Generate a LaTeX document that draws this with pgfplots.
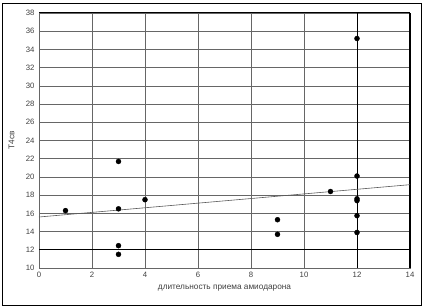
\documentclass[border=0pt]{standalone}
\usepackage{fontspec}
\setmainfont{Liberation Sans}
\usepackage{pgfplots}
\pgfplotsset{compat=1.18}
\begin{document}
\begin{tikzpicture}[x=1bp,y=1bp]
\useasboundingbox (0,0) rectangle (423,308);
\draw[black, line width=0.8bp] (2,3) rectangle (421,305);
\begin{axis}[
  scale only axis,
  width=371bp, height=255bp,
  at={(39bp,40bp)}, anchor=south west,
  xmin=0, xmax=14, ymin=10, ymax=38,
  xtick={0,2,...,14}, ytick={10,12,...,38},
  grid=major,
  grid style={draw=gray!80!black, line width=0.6bp},
  axis line style={draw=gray!80!black, line width=0.6bp},
  tick style={draw=none},
  tick label style={font=\fontsize{7.8}{8}\selectfont, text=black!75},
  /pgf/number format/assume math mode=true,
  xticklabel style={yshift=-1bp},
  yticklabel style={xshift=-1bp},
  xlabel={длительность приема амиодарона},
  ylabel={T4св},
  label style={font=\fontsize{8.3}{9}\selectfont, text=black!75},
  xlabel style={at={(axis description cs:0.5,0)}, anchor=north, yshift=-14bp},
  ylabel style={at={(axis description cs:0,0.5)}, anchor=south, yshift=21bp},
  clip=false,
]
\draw[black, line width=0.8bp] (axis cs:0,12) -- (axis cs:14,12);
\draw[black, line width=0.9bp] (axis cs:12,10) -- (axis cs:12,38);
\draw[black, line width=1.2bp] (axis cs:14,10) -- (axis cs:14,38);
\draw[black, line width=1.0bp] (axis cs:0,38) -- (axis cs:14,38);
\addplot[gray!70!black, line width=0.6bp, no marks] coordinates {(0,15.6) (14,19.15)};
\addplot[only marks, mark=*, mark size=2.5bp, black] coordinates {
(1,16.3) (3,21.7) (3,16.5) (3,12.45) (3,11.5) (4,17.5)
(9,15.3) (9,13.7) (11,18.4)
(12,35.2) (12,20.1) (12,17.6) (12,17.4) (12,15.75) (12,13.9)
};
\end{axis}
\end{tikzpicture}
\end{document}
